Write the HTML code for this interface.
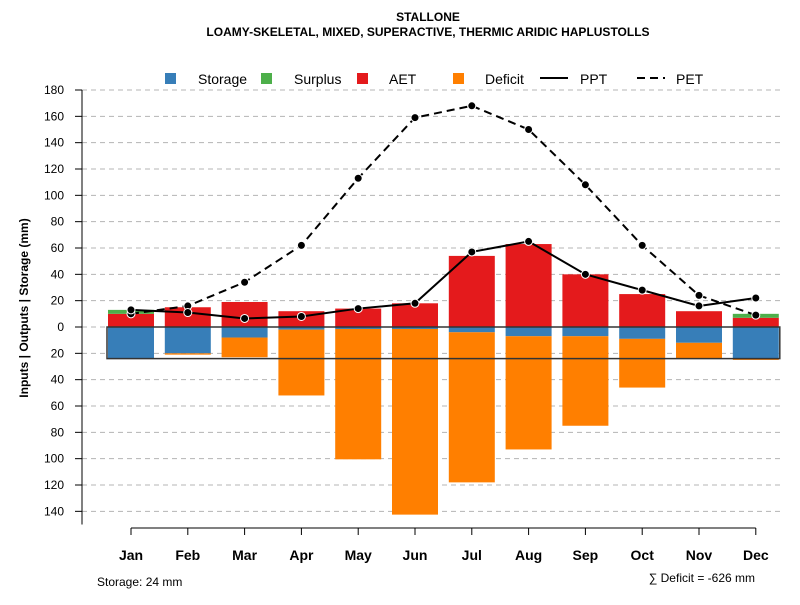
<!DOCTYPE html>
<html><head><meta charset="utf-8"><style>
body{margin:0;background:#fff;font-family:"Liberation Sans",sans-serif}
</style></head><body>
<svg id="c" width="800" height="600" xmlns="http://www.w3.org/2000/svg" font-family="Liberation Sans, sans-serif">
<text x="428" y="21" text-anchor="middle" font-size="12" font-weight="bold">STALLONE</text>
<text x="428" y="36" text-anchor="middle" font-size="12" font-weight="bold">LOAMY-SKELETAL, MIXED, SUPERACTIVE, THERMIC ARIDIC HAPLUSTOLLS</text>
<g id="grid"></g><g id="marks"></g><g id="axes"></g>
<g font-size="14">
<rect x="165" y="73" width="11" height="11" fill="#377eb8"/><text x="198" y="84">Storage</text>
<rect x="261" y="73" width="11" height="11" fill="#4daf4a"/><text x="294" y="84">Surplus</text>
<rect x="357" y="73" width="11" height="11" fill="#e41a1c"/><text x="389" y="84">AET</text>
<rect x="453" y="73" width="11" height="11" fill="#ff7f00"/><text x="485" y="84">Deficit</text>
<line x1="540" y1="78" x2="568" y2="78" stroke="#000" stroke-width="2"/><text x="580" y="84">PPT</text>
<line x1="637" y1="78" x2="665" y2="78" stroke="#000" stroke-width="2" stroke-dasharray="8,5"/><text x="676" y="84">PET</text>
</g>
<text transform="translate(28,308) rotate(-90)" text-anchor="middle" font-size="12" font-weight="bold">Inputs | Outputs | Storage    (mm)</text>
<text x="97" y="586" font-size="12">Storage: 24 mm</text>
<text x="755" y="582" text-anchor="end" font-size="12">∑ Deficit = -626 mm</text>
</svg>
<script>
const months=["Jan","Feb","Mar","Apr","May","Jun","Jul","Aug","Sep","Oct","Nov","Dec"];
const aet=[10,15,19,12,14,18,54,63,40,25,12,7];
const surplus=[3,0,0,0,0,0,0,0,0,0,0,3];
const storage=[24,20,8,2,1.5,1.5,4,7,7,9,12,24];
const deficit=[0,1,15,50,99,141,114,86,68,37,12,1];
const ppt=[13,11,6.5,8,14,18,57,65,40,28,16,22];
const pet=[10,16,34,62,113,159,168,150,108,62,24,9];
const yTicks=[180,160,140,120,100,80,60,40,20,0,-20,-40,-60,-80,-100,-120,-140];
const awc=24;
const NS="http://www.w3.org/2000/svg";
const y=v=>327-v*(237/180);
const x=i=>131+i*56.8;
const bw=46;
function mk(t,a,p){const e=document.createElementNS(NS,t);for(const k in a)e.setAttribute(k,a[k]);p.appendChild(e);return e;}
const grid=document.getElementById('grid'),marks=document.getElementById('marks'),axes=document.getElementById('axes');
yTicks.forEach(v=>{
 const g=mk('line',{x1:82,x2:782,y1:y(v),y2:y(v),stroke:'#b4b4b4','stroke-dasharray':'5,4'},grid);
 
 
 const t=mk('line',{x1:75,x2:82,y1:y(v),y2:y(v),stroke:'#000'},axes);
 
 
 const l=mk('text',{x:64,y:y(v)+4,'text-anchor':'end','font-size':12},axes);
 l.textContent=Math.abs(v);
 
 
});
const ya=mk('line',{x1:82,x2:82,y1:y(180),y2:y(-150),stroke:'#000'},axes);


const xa=mk('line',{x1:x(0),x2:x(11),y1:528,y2:528,stroke:'#000'},axes);


months.forEach((m,i)=>{
 const t=mk('line',{x1:x(i),x2:x(i),y1:528,y2:535,stroke:'#000'},axes);
 
 
 const l=mk('text',{x:x(i),y:560,'text-anchor':'middle','font-size':14,'font-weight':'bold'},axes);
 l.textContent=m;
 
 
 const r1=mk('rect',{x:x(i)-bw/2,y:y(aet[i]),width:bw,height:y(0)-y(aet[i]),fill:'#e41a1c'},marks);
 
 
 if(surplus[i]>0){const r=mk('rect',{x:x(i)-bw/2,y:y(aet[i]+surplus[i]),width:bw,height:y(aet[i])-y(aet[i]+surplus[i]),fill:'#4daf4a'},marks);
 
 }
 const r2=mk('rect',{x:x(i)-bw/2,y:y(0),width:bw,height:y(-storage[i])-y(0),fill:'#377eb8'},marks);
 
 
 const r3=mk('rect',{x:x(i)-bw/2,y:y(-storage[i]),width:bw,height:y(-storage[i]-deficit[i])-y(-storage[i]),fill:'#ff7f00'},marks);
 
 
});
const box=mk('rect',{x:x(0)-bw/2-1,y:y(0),width:x(11)-x(0)+bw+2,height:y(-awc)-y(0),fill:'none',stroke:'#333','stroke-width':1.5},marks);


function line(arr,name,dash){
 const p=mk('polyline',{points:arr.map((v,i)=>x(i)+','+y(v)).join(' '),fill:'none',stroke:'#000','stroke-width':2,'stroke-dasharray':dash},marks);
 
 
 arr.forEach((v,i)=>{const c=mk('circle',{cx:x(i),cy:y(v),r:4,fill:'#000',stroke:'#fff','stroke-width':1},marks);
 
 });
}
line(pet,'pet','8,5');
line(ppt,'ppt','none');
</script>
</body></html>
